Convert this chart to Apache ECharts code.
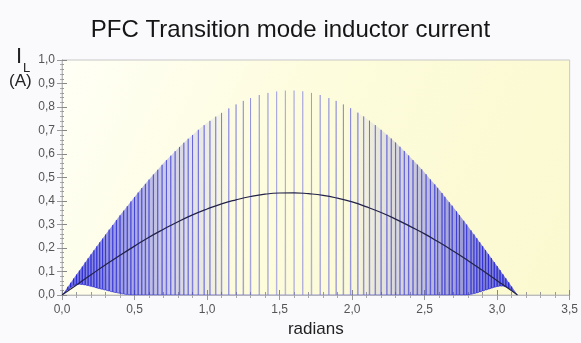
<!DOCTYPE html>
<html>
<head>
<meta charset="utf-8">
<script src="https://cdn.jsdelivr.net/npm/echarts@6/dist/echarts.min.js"></script>
<style>
  html, body { margin: 0; padding: 0; background: #fafafd; }
  #chart { width: 581px; height: 343px; }
</style>
</head>
<body>
<div id="chart"></div>
<script>
// spike tips of the inductor current (radians, A)
const spikeX = [
  0.02, 0.04, 0.06, 0.08, 0.10, 0.12, 0.14, 0.16, 0.18, 0.20, 0.22, 0.24, 0.26, 0.28, 0.30,
  0.325, 0.35, 0.375, 0.40, 0.425, 0.45, 0.475, 0.50, 0.525, 0.55, 0.575, 0.60,
  0.63, 0.66, 0.69, 0.72, 0.75, 0.78, 0.81, 0.84, 0.87, 0.90,
  0.94, 0.98, 1.02, 1.06, 1.10, 1.15, 1.20, 1.25, 1.30, 1.36, 1.42, 1.48, 1.54,
  1.60, 1.66, 1.72, 1.78, 1.84, 1.89, 1.94, 1.99, 2.04, 2.08, 2.12, 2.16, 2.20, 2.24,
  2.27, 2.30, 2.33, 2.36, 2.39, 2.42, 2.45, 2.48, 2.51, 2.54,
  2.57, 2.59, 2.62, 2.64, 2.67, 2.69, 2.72, 2.74, 2.77, 2.79,
  2.82, 2.84, 2.86, 2.88, 2.90, 2.92, 2.94, 2.96, 2.98, 3.00, 3.02, 3.04, 3.06, 3.08, 3.10, 3.12
];
const spikePeak = [
  0.017, 0.035, 0.052, 0.070, 0.087, 0.104, 0.121, 0.139, 0.156, 0.173, 0.190, 0.207, 0.224, 0.240, 0.257,
  0.278, 0.298, 0.319, 0.339, 0.359, 0.378, 0.398, 0.417, 0.436, 0.455, 0.473, 0.491,
  0.513, 0.533, 0.554, 0.574, 0.593, 0.612, 0.630, 0.648, 0.665, 0.681,
  0.703, 0.723, 0.741, 0.759, 0.775, 0.794, 0.811, 0.826, 0.838, 0.851, 0.860, 0.866, 0.870,
  0.870, 0.867, 0.860, 0.851, 0.838, 0.826, 0.811, 0.795, 0.776, 0.760, 0.742, 0.723, 0.703, 0.682,
  0.666, 0.649, 0.631, 0.613, 0.594, 0.574, 0.555, 0.535, 0.514, 0.492,
  0.471, 0.456, 0.434, 0.418, 0.395, 0.380, 0.356, 0.340, 0.316, 0.300,
  0.275, 0.258, 0.242, 0.225, 0.208, 0.191, 0.174, 0.157, 0.140, 0.123, 0.106, 0.088, 0.071, 0.054, 0.036, 0.019
];
// valley level beside each spike (lifts off zero near both ends)
const spikeValley = [
  0.010, 0.022, 0.032, 0.040, 0.045, 0.046, 0.045, 0.043, 0.040, 0.037, 0.034, 0.030, 0.027, 0.024, 0.021,
  0.017, 0.013, 0.010, 0.007, 0.004, 0.002, 0, 0, 0, 0, 0, 0,
  0, 0, 0, 0, 0, 0, 0, 0, 0, 0,
  0, 0, 0, 0, 0, 0, 0, 0, 0, 0, 0, 0, 0,
  0, 0, 0, 0, 0, 0, 0, 0, 0, 0, 0, 0, 0, 0,
  0, 0, 0, 0, 0, 0, 0, 0, 0, 0,
  0, 0, 0, 0, 0, 0, 0, 0, 0, 0,
  0.003, 0.006, 0.009, 0.013, 0.017, 0.021, 0.025, 0.029, 0.033, 0.036, 0.038, 0.038, 0.035, 0.030, 0.022, 0.012
];
// average current
const avgX = [0, 0.1, 0.2, 0.3, 0.4, 0.5, 0.6, 0.7, 0.8, 0.9, 1.0, 1.1, 1.2, 1.3, 1.4, 1.5, 1.6,
  1.7, 1.8, 1.9, 2.0, 2.1, 2.2, 2.3, 2.4, 2.5, 2.6, 2.7, 2.8, 2.9, 3.0, 3.1, 3.14];
const avgY = [0, 0.043, 0.086, 0.129, 0.169, 0.208, 0.246, 0.280, 0.312, 0.341, 0.366, 0.388, 0.405,
  0.419, 0.429, 0.434, 0.435, 0.431, 0.424, 0.412, 0.396, 0.375, 0.351, 0.323, 0.292, 0.260, 0.224,
  0.186, 0.146, 0.104, 0.061, 0.018, 0];

const endX = 3.14;
const halfW = 0.002;

// zigzag for the switching ripple
const ripple = [[0, 0]];
spikeX.forEach((x, i) => {
  ripple.push([x - halfW, spikeValley[i]]);
  ripple.push([x, spikePeak[i]]);
  ripple.push([x + halfW, spikeValley[i]]);
});
ripple.push([endX, 0]);

const avgData = avgX.map((x, i) => [x, avgY[i]]);

const fmt = v => v.toFixed(1).replace('.', ',');

const myChart = echarts.init(document.getElementById('chart'));

const option = {
  backgroundColor: '#fafafd',
  animation: false,
  title: {
    text: 'PFC Transition mode inductor current',
    left: 'center',
    top: 13,
    textStyle: { fontFamily: 'Liberation Sans', fontSize: 24, fontWeight: 'normal', color: '#151515' }
  },
  grid: {
    left: 62, right: 4, top: 60, bottom: 46,
    show: true,
    borderColor: '#c8c8c8',
    borderWidth: 1,
    backgroundColor: {
      type: 'linear', x: 0, y: 0, x2: 1, y2: 1,
      colorStops: [
        { offset: 0, color: '#fffff6' },
        { offset: 0.45, color: '#fdfcdc' },
        { offset: 1, color: '#fbf9cf' }
      ]
    }
  },
  graphic: [
    { type: 'text', left: 16, top: 46, style: { text: 'I', fontFamily: 'Liberation Sans', fontSize: 22, fill: '#222' } },
    { type: 'text', left: 23, top: 62, style: { text: 'L', fontFamily: 'Liberation Sans', fontSize: 13, fill: '#222' } },
    { type: 'text', left: 9, top: 73, style: { text: '(A)', fontFamily: 'Liberation Sans', fontSize: 17, fill: '#222' } }
  ],
  xAxis: [
    {
      type: 'value', min: 0, max: 3.5, interval: 0.5, position: 'bottom',
      axisLine: { show: true, lineStyle: { color: '#aaa' } },
      axisTick: { inside: true, length: 5, lineStyle: { color: '#888' } },
      minorTick: { show: true, splitNumber: 5, length: 3, lineStyle: { color: '#999' } },
      axisLabel: { formatter: fmt, fontFamily: 'Liberation Sans', fontSize: 12, color: '#555', margin: 9 },
      splitLine: { show: false },
      name: 'radians', nameLocation: 'middle', nameGap: 26,
      nameTextStyle: { fontFamily: 'Liberation Sans', fontSize: 17, color: '#222' }
    },
    {
      type: 'value', min: 0, max: 3.5, interval: 0.5, position: 'top',
      axisLine: { show: true, lineStyle: { color: '#bbb' } },
      axisTick: { inside: true, length: 5, lineStyle: { color: '#999' } },
      minorTick: { show: true, splitNumber: 5, length: 3, lineStyle: { color: '#aaa' } },
      axisLabel: { show: false },
      splitLine: { show: false }
    }
  ],
  yAxis: [
    {
      type: 'value', min: 0, max: 1, interval: 0.1, position: 'left',
      axisLine: { show: true, lineStyle: { color: '#aaa' } },
      axisTick: { inside: true, length: 5, lineStyle: { color: '#888' } },
      minorTick: { show: true, splitNumber: 5, length: 2, lineStyle: { color: '#999' } },
      axisLabel: { formatter: fmt, fontFamily: 'Liberation Sans', fontSize: 12, color: '#555', margin: 7 },
      splitLine: { show: false }
    },
    {
      type: 'value', min: 0, max: 1, interval: 0.1, position: 'right',
      axisLine: { show: true, lineStyle: { color: '#bbb' } },
      axisTick: { inside: true, length: 5, lineStyle: { color: '#999' } },
      minorTick: { show: true, splitNumber: 5, length: 2, lineStyle: { color: '#aaa' } },
      axisLabel: { show: false },
      splitLine: { show: false }
    }
  ],
  series: [
    {
      // tinted band between valley and tip envelopes
      type: 'custom',
      silent: true,
      data: [[0, 0]],
      z: 1,
      renderItem: function (params, api) {
        const pts = [api.coord([0, 0])];
        spikeX.forEach((x, i) => pts.push(api.coord([x, spikePeak[i]])));
        pts.push(api.coord([endX, 0]));
        for (let i = spikeX.length - 1; i >= 0; i--) {
          pts.push(api.coord([spikeX[i], spikeValley[i]]));
        }
        return {
          type: 'polygon',
          shape: { points: pts },
          style: {
            fill: new echarts.graphic.LinearGradient(0, 0, 1, 0, [
              { offset: 0, color: 'rgba(25,25,215,0.65)' },
              { offset: 0.16, color: 'rgba(60,60,220,0.42)' },
              { offset: 0.3, color: 'rgba(110,110,230,0.16)' },
              { offset: 0.38, color: 'rgba(160,160,240,0)' },
              { offset: 0.62, color: 'rgba(160,160,240,0)' },
              { offset: 0.7, color: 'rgba(110,110,230,0.16)' },
              { offset: 0.84, color: 'rgba(60,60,220,0.42)' },
              { offset: 1, color: 'rgba(25,25,215,0.65)' }
            ])
          }
        };
      }
    },
    {
      type: 'line',
      data: ripple,
      showSymbol: false,
      symbol: 'none',
      z: 2,
      lineStyle: {
        width: 0.9,
        color: new echarts.graphic.LinearGradient(0, 0, 1, 0, [
          { offset: 0, color: 'rgba(20,20,210,0.75)' },
          { offset: 0.3, color: 'rgba(60,60,215,0.55)' },
          { offset: 0.5, color: 'rgba(120,120,225,0.45)' },
          { offset: 0.7, color: 'rgba(60,60,215,0.55)' },
          { offset: 1, color: 'rgba(20,20,210,0.75)' }
        ])
      }
    },
    {
      type: 'line',
      data: avgData,
      showSymbol: false,
      symbol: 'none',
      smooth: true,
      z: 3,
      lineStyle: { color: '#22224a', width: 1.2 }
    }
  ]
};

option && myChart.setOption(option);
</script>
</body>
</html>
